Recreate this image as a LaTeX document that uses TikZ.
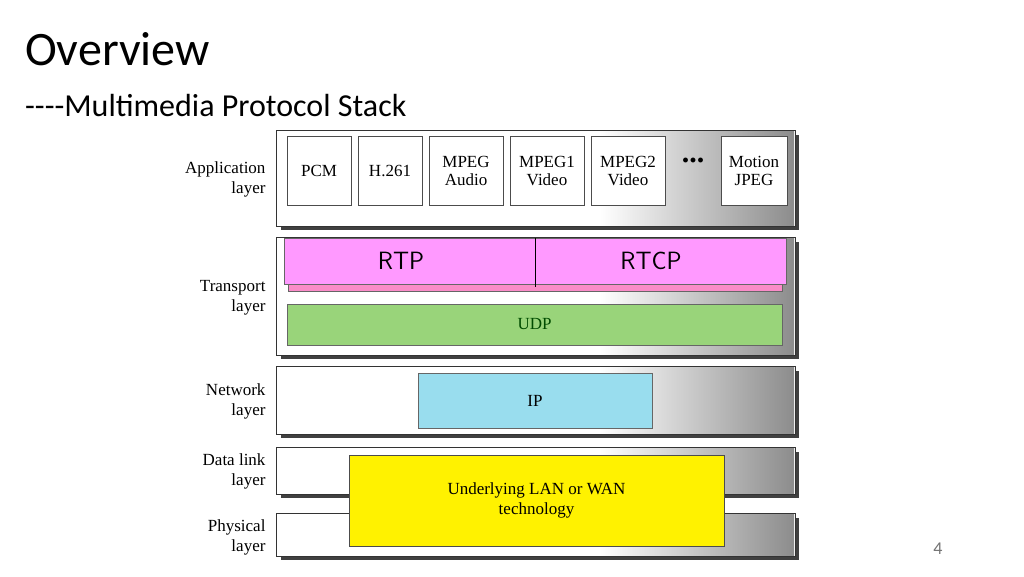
\documentclass[tikz,border=0pt]{standalone}
\usepackage{fontspec}
\setmainfont{Liberation Serif}
\newfontfamily\slidefont{Carlito}
\usetikzlibrary{positioning}
\definecolor{rtpcol}{RGB}{255,153,255}
\definecolor{rtpstrip}{RGB}{250,140,200}
\definecolor{udpcol}{RGB}{153,212,122}
\definecolor{ipcol}{RGB}{153,221,238}
\tikzset{
  layer/.style={draw=black!80, fill=white},
  proto/.style={draw=black!70, fill=white, align=center, font=\fontsize{17}{18}\selectfont, inner sep=0pt},
  lbl/.style={anchor=east, align=right, font=\fontsize{17}{20}\selectfont},
}
\newcommand{\stacklayer}[3]{% name, top, bottom
  \fill[black!75] (281,#2+5) rectangle (799,#3+4);
  \draw[layer] (276,#2) rectangle (795,#3);
  \shade[left color=white, right color=black!45] (600,#2+1) rectangle (794,#3-1);
  \coordinate (#1) at (276,#2);
}
\begin{document}
\begin{tikzpicture}[x=1pt,y=-1pt]
    \useasboundingbox (0,0) rectangle (1024,576);

    % title
    \node[anchor=base west, inner sep=0pt, font=\slidefont\fontsize{48}{48}\selectfont] (title) at (25,65) {Overview};
    \node[anchor=base west, inner sep=0pt, font=\slidefont\fontsize{32}{32}\selectfont] (subtitle) at (25,116) {----Multimedia Protocol Stack};

    % layers
    \stacklayer{app}{130}{226}
    \stacklayer{trans}{237}{355}
    \stacklayer{net}{366}{434}
    \stacklayer{dlink}{447}{494}
    \stacklayer{phys}{513}{556}

    % application protocols
    \node[proto, minimum width=64, minimum height=69] (pcm) at (319,170.5) {PCM};
    \node[proto, minimum width=64, minimum height=69] (h261) at (390,170.5) {H.261};
    \node[proto, minimum width=74, minimum height=69] (mpega) at (466,170.5) {MPEG\\Audio};
    \node[proto, minimum width=74, minimum height=69] (mpeg1) at (547,170.5) {MPEG1\\Video};
    \node[proto, minimum width=74, minimum height=69] (mpeg2) at (628,170.5) {MPEG2\\Video};
    \node[font=\fontsize{30}{30}\selectfont\bfseries] (dots) at (693,160) {...};
    \node[proto, minimum width=66, minimum height=69] (mjpeg) at (754,170.5) {Motion\\JPEG};

    % transport
    \fill[rtpstrip, draw=black!60] (288,283) rectangle (782,291);
    \draw[fill=rtpcol, draw=black!60] (284,238) rectangle (786,284);
    \draw[thick] (535,238) -- (535,287);
    \node[font=\sffamily\fontsize{25}{25}\selectfont] (rtp) at (401,261) {RTP};
    \node[font=\sffamily\fontsize{25}{25}\selectfont] (rtcp) at (651,261) {RTCP};
    \node[draw=black!60, fill=udpcol, minimum width=495, minimum height=41, font=\fontsize{17}{17}\selectfont, text=green!30!black] (udp) at (534.5,324.5) {UDP};

    % network
    \node[draw=black!60, fill=ipcol, minimum width=234, minimum height=55, font=\fontsize{17}{17}\selectfont] (ip) at (535,400.5) {IP};

    % data link + physical
    \node[draw=black!70, fill=yellow, minimum width=375, minimum height=91, align=center, font=\fontsize{17}{20}\selectfont] (lan) at (536.5,500.5) {Underlying LAN or WAN\\technology};

    % layer names
    \node[lbl] (lapp) at (269,179) {Application\\layer};
    \node[lbl] (ltrans) at (269,298) {Transport\\layer};
    \node[lbl] (lnet) at (269,401) {Network\\layer};
    \node[lbl] (ldlink) at (269,471) {Data link\\layer};
    \node[lbl] (lphys) at (269,537) {Physical\\layer};

    % page number
    \node[font=\slidefont\fontsize{18}{18}\selectfont, text=black!55] (page) at (938,549) {4};
\end{tikzpicture}
\end{document}
